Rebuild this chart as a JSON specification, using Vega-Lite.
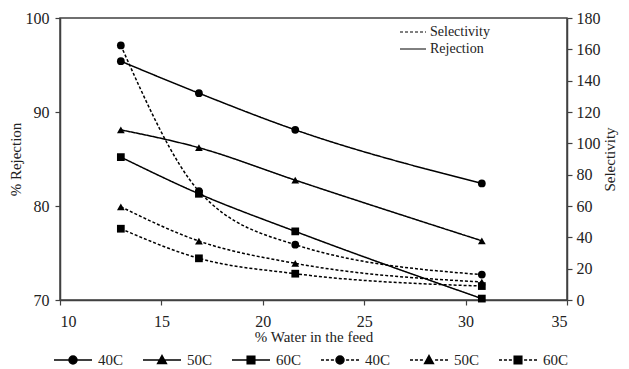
{
  "$schema": "https://vega.github.io/schema/vega-lite/v6.json",
  "width": 507,
  "height": 282,
  "padding": {"left": 8, "top": 10, "right": 5, "bottom": 0},
  "background": "white",
  "config": {
    "font": "Liberation Serif",
    "view": {"stroke": "#404040", "strokeWidth": 1.5},
    "axis": {"grid": false, "domainColor": "#404040", "domainWidth": 1.5, "tickColor": "#404040", "tickWidth": 1.2, "tickSize": 5, "labelFont": "Liberation Serif", "labelFontSize": 16, "labelColor": "#222222", "titleFont": "Liberation Serif", "titleFontSize": 15, "titleFontWeight": "normal", "titleColor": "#222222"},
    "legend": {"labelFont": "Liberation Serif", "labelFontSize": 15, "labelColor": "#222222"}
  },
  "datasets": {
    "main": [
      {"w": 13.0, "temp": "40C", "type": "Rejection", "value": 95.4},
      {"w": 16.85, "temp": "40C", "type": "Rejection", "value": 92.0},
      {"w": 21.6, "temp": "40C", "type": "Rejection", "value": 88.1},
      {"w": 30.8, "temp": "40C", "type": "Rejection", "value": 82.4},
      {"w": 13.0, "temp": "50C", "type": "Rejection", "value": 88.1},
      {"w": 16.85, "temp": "50C", "type": "Rejection", "value": 86.2},
      {"w": 21.6, "temp": "50C", "type": "Rejection", "value": 82.75},
      {"w": 30.8, "temp": "50C", "type": "Rejection", "value": 76.3},
      {"w": 13.0, "temp": "60C", "type": "Rejection", "value": 85.2},
      {"w": 16.85, "temp": "60C", "type": "Rejection", "value": 81.3},
      {"w": 21.6, "temp": "60C", "type": "Rejection", "value": 77.3},
      {"w": 30.8, "temp": "60C", "type": "Rejection", "value": 70.15},
      {"w": 13.0, "temp": "40C", "type": "Selectivity", "value": 162.5},
      {"w": 16.85, "temp": "40C", "type": "Selectivity", "value": 69.5},
      {"w": 21.6, "temp": "40C", "type": "Selectivity", "value": 35.3},
      {"w": 30.8, "temp": "40C", "type": "Selectivity", "value": 16.2},
      {"w": 13.0, "temp": "50C", "type": "Selectivity", "value": 59.5},
      {"w": 16.85, "temp": "50C", "type": "Selectivity", "value": 37.6},
      {"w": 21.6, "temp": "50C", "type": "Selectivity", "value": 23.4},
      {"w": 30.8, "temp": "50C", "type": "Selectivity", "value": 11.5},
      {"w": 13.0, "temp": "60C", "type": "Selectivity", "value": 45.5},
      {"w": 16.85, "temp": "60C", "type": "Selectivity", "value": 26.6},
      {"w": 21.6, "temp": "60C", "type": "Selectivity", "value": 16.8},
      {"w": 30.8, "temp": "60C", "type": "Selectivity", "value": 8.9}
    ]
  },
  "data": {"name": "main"},
  "layer": [
    {
      "transform": [{"filter": "datum.type === 'Rejection'"}],
      "encoding": {
        "x": {"field": "w", "type": "quantitative", "scale": {"domain": [10, 35], "nice": false}, "axis": {"values": [10, 15, 20, 25, 30, 35], "title": "% Water in the feed", "titlePadding": 0, "labelPadding": 8}},
        "y": {"field": "value", "type": "quantitative", "scale": {"domain": [70, 100], "nice": false, "zero": false}, "axis": {"orient": "left", "values": [70, 80, 90, 100], "title": "% Rejection", "titlePadding": 2, "labelPadding": 6}}
      },
      "layer": [
        {
          "mark": {"type": "line", "interpolate": "monotone", "color": "black", "strokeWidth": 1.5},
          "encoding": {
            "detail": {"field": "temp"},
            "strokeDash": {"field": "type", "type": "nominal", "scale": {"domain": ["Selectivity", "Rejection"], "range": [[3, 2], [1, 0]]}, "legend": {"orient": "none", "legendX": 346, "legendY": 7, "title": null, "symbolType": "M-2,0L2,0", "symbolSize": 169, "symbolStrokeColor": "black", "symbolStrokeWidth": 1, "labelFontSize": 14, "rowPadding": 3, "labelOffset": 10}}
          }
        },
        {
          "mark": {"type": "point", "filled": true, "color": "black", "size": 60, "opacity": 1},
          "encoding": {
            "shape": {"field": "temp", "type": "nominal", "scale": {"domain": ["40C", "50C", "60C"], "range": ["circle", "triangle-up", "square"]}, "legend": null}
          }
        }
      ]
    },
    {
      "transform": [{"filter": "datum.type === 'Selectivity'"}],
      "encoding": {
        "x": {"field": "w", "type": "quantitative", "scale": {"domain": [10, 35], "nice": false}, "axis": {"values": [10, 15, 20, 25, 30, 35], "title": "% Water in the feed", "titlePadding": 0, "labelPadding": 8}},
        "y": {"field": "value", "type": "quantitative", "scale": {"domain": [0, 180], "nice": false}, "axis": {"orient": "right", "values": [0, 20, 40, 60, 80, 100, 120, 140, 160, 180], "title": "Selectivity", "titleAngle": -90, "titleBaseline": "top", "titlePadding": 2, "labelPadding": 4}}
      },
      "layer": [
        {
          "mark": {"type": "line", "interpolate": "monotone", "color": "black", "strokeWidth": 1.5},
          "encoding": {
            "detail": {"field": "temp"},
            "strokeDash": {"field": "type", "type": "nominal", "scale": {"domain": ["Selectivity", "Rejection"], "range": [[3, 2], [1, 0]]}, "legend": {"orient": "none", "legendX": 346, "legendY": 7, "title": null, "symbolType": "M-2,0L2,0", "symbolSize": 169, "symbolStrokeColor": "black", "symbolStrokeWidth": 1, "labelFontSize": 14, "rowPadding": 3, "labelOffset": 10}}
          }
        },
        {
          "mark": {"type": "point", "filled": true, "color": "black", "size": 60, "opacity": 1},
          "encoding": {
            "shape": {"field": "temp", "type": "nominal", "scale": {"domain": ["40C", "50C", "60C"], "range": ["circle", "triangle-up", "square"]}, "legend": null}
          }
        }
      ]
    },
    {
      "data": {"values": []},
      "mark": {"type": "point", "filled": true, "color": "black", "stroke": "black", "strokeWidth": 1.5, "opacity": 1},
      "encoding": {
        "shape": {
          "field": "s", "type": "nominal",
          "scale": {
            "domain": ["r40", "r50", "r60", "s40", "s50", "s60"],
            "range": [
              "M-1,0L1,0M-0.21,0A0.21,0.21,0,1,1,0.21,0A0.21,0.21,0,1,1,-0.21,0Z",
              "M-1,0L1,0M0,-0.23L0.23,0.18L-0.23,0.18Z",
              "M-1,0L1,0M-0.2,-0.2L0.2,-0.2L0.2,0.2L-0.2,0.2Z",
              "M-1,0L-0.84,0M-0.74,0L-0.58,0M-0.48,0L-0.32,0M0.32,0L0.48,0M0.58,0L0.74,0M0.84,0L1,0M-0.21,0A0.21,0.21,0,1,1,0.21,0A0.21,0.21,0,1,1,-0.21,0Z",
              "M-1,0L-0.84,0M-0.74,0L-0.58,0M-0.48,0L-0.32,0M0.32,0L0.48,0M0.58,0L0.74,0M0.84,0L1,0M0,-0.23L0.23,0.18L-0.23,0.18Z",
              "M-1,0L-0.84,0M-0.74,0L-0.58,0M-0.48,0L-0.32,0M0.32,0L0.48,0M0.58,0L0.74,0M0.84,0L1,0M-0.2,-0.2L0.2,-0.2L0.2,0.2L-0.2,0.2Z"
            ]
          },
          "legend": {
            "orient": "none", "direction": "horizontal", "columns": 6, "gridAlign": "all", "legendX": -7, "legendY": 322, "title": null, "symbolSize": 1444, "labelOffset": 5, "columnPadding": 16, "labelExpr": "substring(datum.label, 1) + 'C'",
            "encode": {"symbols": {"update": {"stroke": {"value": "black"}, "fill": {"value": "black"}, "strokeWidth": {"value": 1.5}, "opacity": {"value": 1}, "fillOpacity": {"value": 1}, "strokeOpacity": {"value": 1}}}}
          }
        }
      }
    }
  ],
  "resolve": {"scale": {"y": "independent", "shape": "independent"}}
}
